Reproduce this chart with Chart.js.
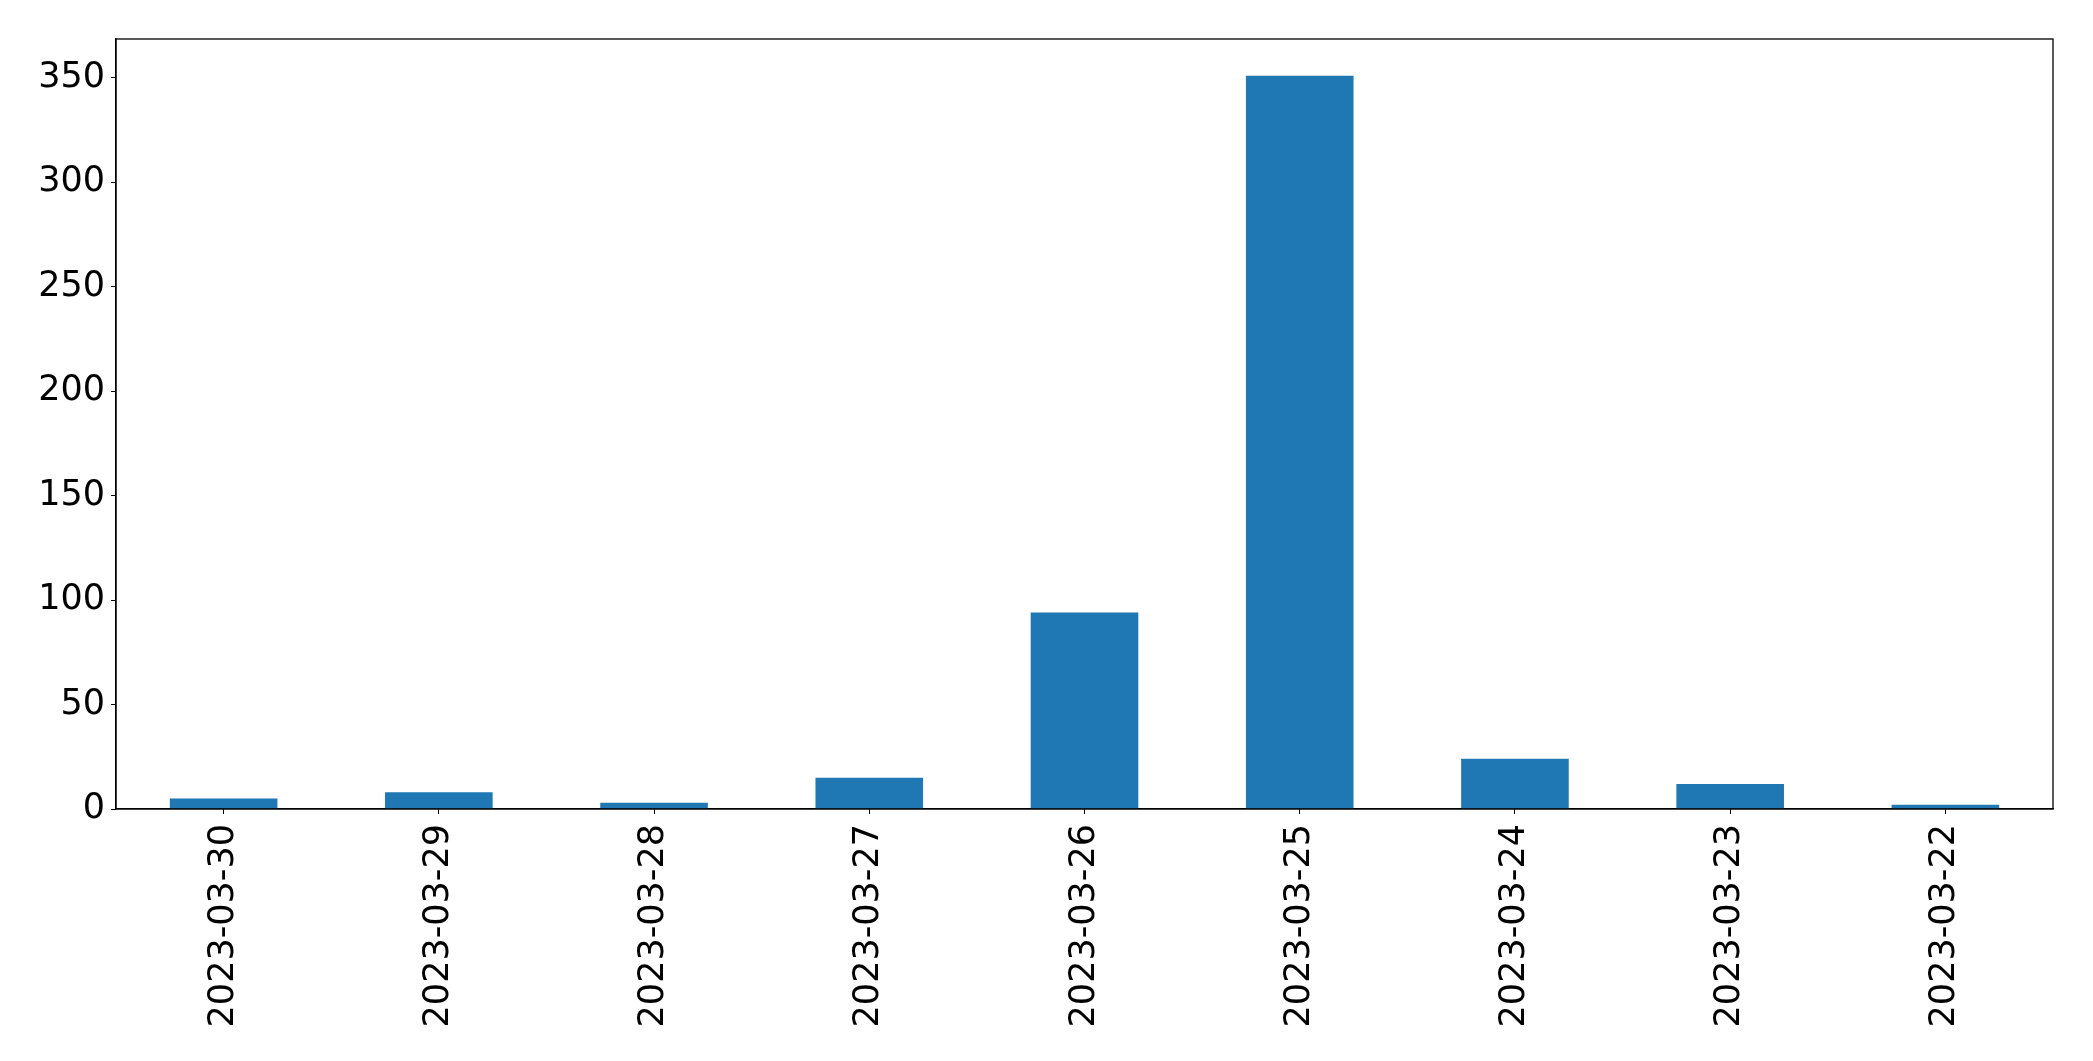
<!DOCTYPE html>
<html>
<head>
<meta charset="utf-8">
<script src="https://cdn.jsdelivr.net/npm/chart.js@4/dist/chart.umd.min.js"></script>
<style>
html,body{margin:0;padding:0;background:#fff;}
#wrap{width:2093px;height:1061px;position:relative;}
</style>
</head>
<body>
<div id="wrap"><canvas id="c" width="2093" height="1061"></canvas></div>
<script>
const categories = ["2023-03-30","2023-03-29","2023-03-28","2023-03-27","2023-03-26","2023-03-25","2023-03-24","2023-03-23","2023-03-22"];
const values = [5, 8, 3, 15, 94, 351, 24, 12, 2];
const yTicks = [0, 50, 100, 150, 200, 250, 300, 350];

const FONT = {family: "'DejaVu Sans'", size: 35};

const frame = {
  id: 'frame',
  afterDraw(chart) {
    const a = chart.chartArea, ctx = chart.ctx;
    ctx.save();
    ctx.strokeStyle = '#000';
    ctx.lineWidth = 1.3;
    ctx.strokeRect(a.left, a.top, a.right - a.left, a.bottom - a.top);
    ctx.restore();
  }
};

new Chart(document.getElementById('c'), {
  type: 'bar',
  data: {
    labels: categories,
    datasets: [{
      data: values,
      backgroundColor: '#1f77b4',
      borderWidth: 0,
      barPercentage: 0.5,
      categoryPercentage: 1.0
    }]
  },
  options: {
    responsive: false,
    animation: false,
    devicePixelRatio: 1,
    layout: {padding: {top: 39, right: 40, left: 0, bottom: 0}},
    plugins: {legend: {display: false}, tooltip: {enabled: false}},
    scales: {
      x: {
        offset: true,
        grid: {display: true, drawOnChartArea: false, drawTicks: true, tickLength: 5, color: '#000', offset: false},
        border: {display: true, color: '#000', width: 1.3},
        ticks: {
          color: '#000', font: FONT, minRotation: 90, maxRotation: 90, padding: 10, autoSkip: false
        },
        afterFit(s) { s.height = 1061 - 809; }
      },
      y: {
        min: 0,
        max: 351 * 1.05,
        afterBuildTicks(s) { s.ticks = yTicks.map(v => ({value: v})); },
        grid: {display: true, drawOnChartArea: false, drawTicks: true, tickLength: 5, color: '#000'},
        border: {display: true, color: '#000', width: 1.3},
        ticks: {color: '#000', font: FONT, padding: 6},
        afterFit(s) { s.width = 116; }
      }
    }
  },
  plugins: [frame]
});
</script>
</body>
</html>
